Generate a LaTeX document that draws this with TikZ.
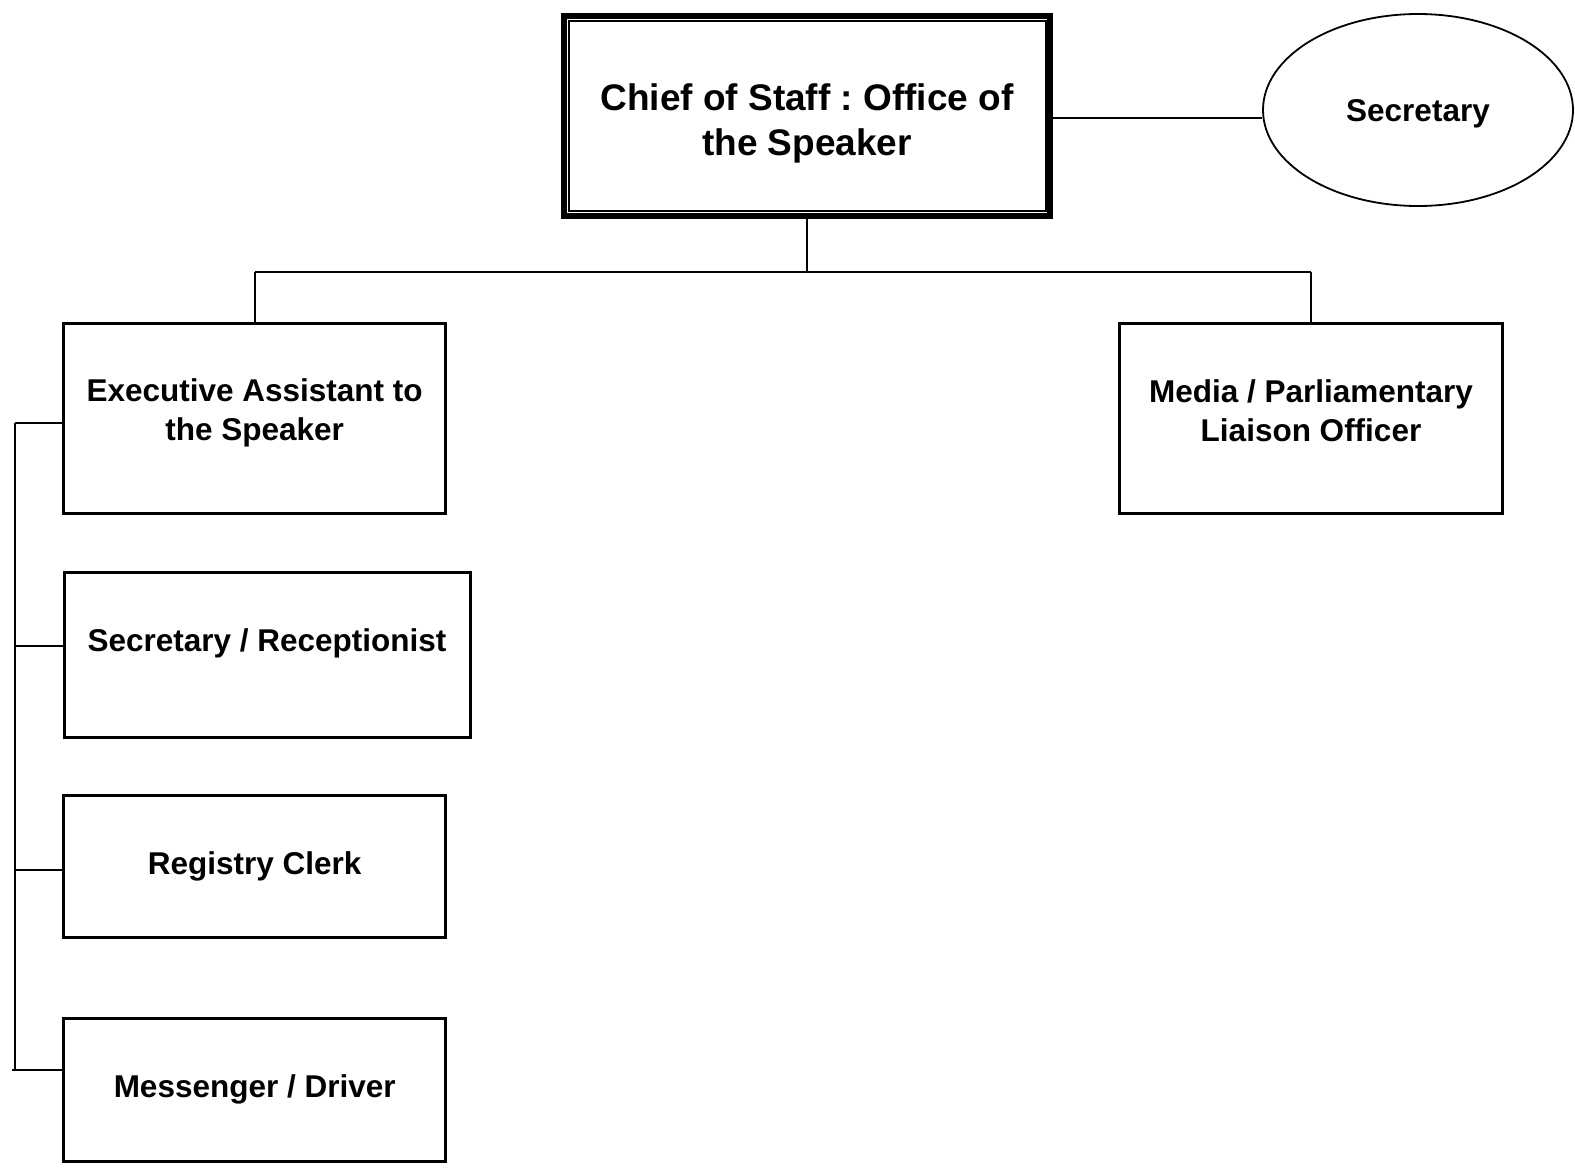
\documentclass[tikz,border=0pt]{standalone}
\usepackage{fontspec}
\setmainfont{Liberation Sans}
\usetikzlibrary{shapes.geometric}
\frenchspacing
\begin{document}
\begin{tikzpicture}[x=1pt,y=-1pt,
  box/.style={draw=black,line width=3pt,rectangle,inner sep=0pt,fill=white},
  txt/.style={align=center,inner sep=0pt,font=\fontsize{31.5}{39.2}\selectfont\bfseries},
  bigtxt/.style={align=center,inner sep=0pt,font=\fontsize{37}{45.2}\selectfont\bfseries},
  conn/.style={draw=black,line width=1.8pt}]
\useasboundingbox (0,0) rectangle (1575,1168);
\fill[white] (0,0) rectangle (1575,1168);

% Chief of staff
\node[draw=black,line width=6pt,rectangle,inner sep=0pt,minimum width=486pt,minimum height=199.5pt] (chief) at (807,115.75) {};
\draw[line width=2pt] ([shift={(7.5pt,-7.5pt)}]chief.north west) rectangle ([shift={(-7.5pt,7.5pt)}]chief.south east);
\node[bigtxt] (chiefT) at (807,123.5) {Chief of Staff : Office of\\the Speaker};

% Secretary ellipse
\node[draw=black,line width=1.8pt,ellipse,inner sep=0pt,minimum width=310pt,minimum height=192pt] (sec) at (1418,110) {};
\node[txt] (secT) at (1418,113.5) {Secretary};

% Level 2
\node[box,minimum width=382pt,minimum height=190pt] (exec) at (254.7,418.9) {};
\node[txt] (execT) at (254.7,413) {Executive Assistant to\\the Speaker};
\node[box,minimum width=383pt,minimum height=190pt] (media) at (1311,418.9) {};
\node[txt] (mediaT) at (1311,411) {Media / Parliamentary\\Liaison Officer};

% Left column
\node[box,minimum width=406pt,minimum height=165pt] (recep) at (267,655.2) {};
\node[txt] (recepT) at (267,643) {Secretary / Receptionist};
\node[box,minimum width=382pt,minimum height=141.5pt] (reg) at (254.7,866.4) {};
\node[txt] (regT) at (254.7,866) {Registry Clerk};
\node[box,minimum width=382pt,minimum height=142.5pt] (mess) at (254.7,1090) {};
\node[txt] (messT) at (254.7,1089) {Messenger / Driver};

% Connectors
\coordinate (busM) at (807,272);
\coordinate (busL) at (exec.north |- busM);
\coordinate (busR) at (media.north |- busM);
\draw[conn] (chief.south) -- (busM);
\draw[conn] (busL) -- (busR);
\draw[conn] (busL) -- (exec.north);
\draw[conn] (busR) -- (media.north);
\coordinate (ce) at ([yshift=-2.5pt]chief.east);
\draw[conn] (ce) -- (sec.west |- ce);

\coordinate (s1) at (15,423);
\coordinate (s2) at (15,646);
\coordinate (s3) at (15,870);
\coordinate (s4) at (15,1070);
\coordinate (s4e) at (12,1070);
\draw[conn] (s1) -- (s4);
\draw[conn] (s1) -- (s1 -| exec.west);
\draw[conn] (s2) -- (s2 -| recep.west);
\draw[conn] (s3) -- (s3 -| reg.west);
\draw[conn] (s4e) -- (s4 -| mess.west);
\end{tikzpicture}
\end{document}
